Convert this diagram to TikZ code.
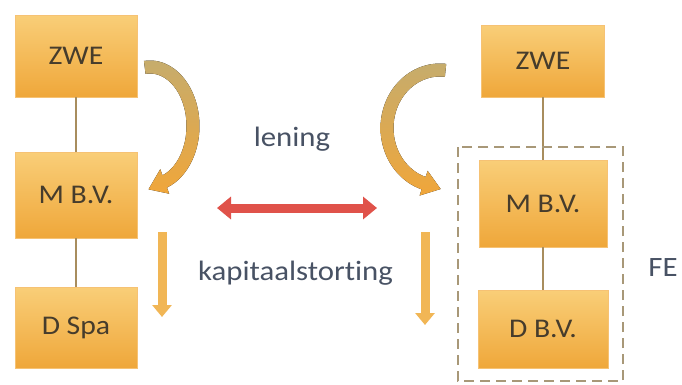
\documentclass[tikz,border=0pt]{standalone}
\usepackage{fontspec}
\setmainfont[Ligatures=NoCommon, FakeStretch=1.1]{Carlito}
\usetikzlibrary{arrows.meta,calc}
\definecolor{boxtop}{HTML}{F9CE78}
\definecolor{boxbot}{HTML}{EFA73A}
\definecolor{boxedge}{HTML}{F6C274}
\definecolor{boxtext}{HTML}{463C2C}
\definecolor{labtext}{HTML}{485264}
\definecolor{linkcol}{HTML}{A88D5E}
\definecolor{arrtan}{HTML}{C6AC6C}
\definecolor{arrorange}{HTML}{F0A63A}
\definecolor{redarr}{HTML}{E0524A}
\definecolor{downarr}{HTML}{F1B655}
\definecolor{dashcol}{HTML}{A89878}
\begin{document}
\begin{tikzpicture}[x=1pt,y=-1pt,
  box/.style={rectangle, top color=boxtop, bottom color=boxbot, draw=boxedge,
    line width=0.8pt, inner sep=0pt, text=boxtext,
    font=\fontsize{27}{30}\selectfont},
  lab/.style={text=labtext, inner sep=0pt, anchor=base,
    font=\fontsize{28}{32}\selectfont},
  link/.style={draw=linkcol, line width=1.6pt},
  redstyle/.style={draw=redarr, line width=9pt,
    {Triangle[width=22pt,length=14pt]}-{Triangle[width=22pt,length=14pt]}},
  downstyle/.style={draw=downarr, line width=9pt,
    -{Triangle[width=19pt,length=12pt]}},
  curvefill/.style={top color=arrtan, bottom color=arrorange, draw=none}]
\useasboundingbox[fill=white] (0,0) rectangle (682,384);

% left column
\node[box, minimum width=122pt, minimum height=82pt] (lz) at (76,56) {ZWE};
\node[box, minimum width=122pt, minimum height=86pt] (lm) at (76,195) {M B.V.};
\node[box, minimum width=122pt, minimum height=81pt] (ld) at (76,327.5) {D Spa};
\draw[link] (lz) -- (lm);
\draw[link] (lm) -- (ld);

% right column
\node[box, minimum width=123pt, minimum height=72pt] (rz) at (543,61) {ZWE};
\node[box, minimum width=128pt, minimum height=87pt] (rm) at (543,203.5) {M B.V.};
\node[box, minimum width=130pt, minimum height=78pt] (rd) at (543,329) {D B.V.};
\draw[link] (rz) -- (rm);
\draw[link] (rm) -- (rd);

% dashed frame
\draw[dashcol, line width=2.5pt, dash pattern=on 10pt off 6pt] (458,147) rectangle (623,381);

% labels
\node[lab] (len) at (292,146) {lening};
\node[lab] (kap) at (295.5,280) {kapitaalstorting};
\node[lab] (fe) at (663,276) {FE};

% red double arrow
\coordinate (ra) at (217,208);
\coordinate (rb) at (377,208);
\draw[redstyle] (ra) -- (rb);

% down arrows
\coordinate (da1) at (162,232);
\coordinate (db1) at (162,317);
\draw[downstyle] (da1) -- (db1);
\coordinate (da2) at (425,232);
\coordinate (db2) at (425,325);
\draw[downstyle] (da2) -- (db2);

% left curved arrow
\coordinate (Lp) at ({150+43*cos(70)},{126+59*sin(70)});
\coordinate (Lq) at ({150+43*cos(71)},{126+59*sin(71)});
\coordinate (Lo) at ({150+49.5*cos(70)},{126+65.5*sin(70)});
\coordinate (Li) at ({150+36.5*cos(70)},{126+52.5*sin(70)});
\coordinate (Lt) at ($(Lp)!18pt!(Lq)$);
\fill[curvefill] plot[domain=-97:70,samples=60] ({150+49.5*cos(\x)},{126+65.5*sin(\x)})
  -- ($(Lp)!2!(Lo)$) -- (Lt) -- ($(Lp)!2!(Li)$)
  -- plot[domain=70:-97,samples=60] ({150+36.5*cos(\x)},{126+52.5*sin(\x)}) -- cycle;

% right curved arrow
\coordinate (Rp) at ({440+53*cos(-252)},{128+58*sin(-252)});
\coordinate (Rq) at ({440+53*cos(-253)},{128+58*sin(-253)});
\coordinate (Ro) at ({440+59.5*cos(-252)},{128+64.5*sin(-252)});
\coordinate (Ri) at ({440+46.5*cos(-252)},{128+51.5*sin(-252)});
\coordinate (Rt) at ($(Rp)!18pt!(Rq)$);
\fill[curvefill] plot[domain=-84:-252,samples=60] ({440+59.5*cos(\x)},{128+64.5*sin(\x)})
  -- ($(Rp)!2!(Ro)$) -- (Rt) -- ($(Rp)!2!(Ri)$)
  -- plot[domain=-252:-84,samples=60] ({440+46.5*cos(\x)},{128+51.5*sin(\x)}) -- cycle;
\end{tikzpicture}
\end{document}
